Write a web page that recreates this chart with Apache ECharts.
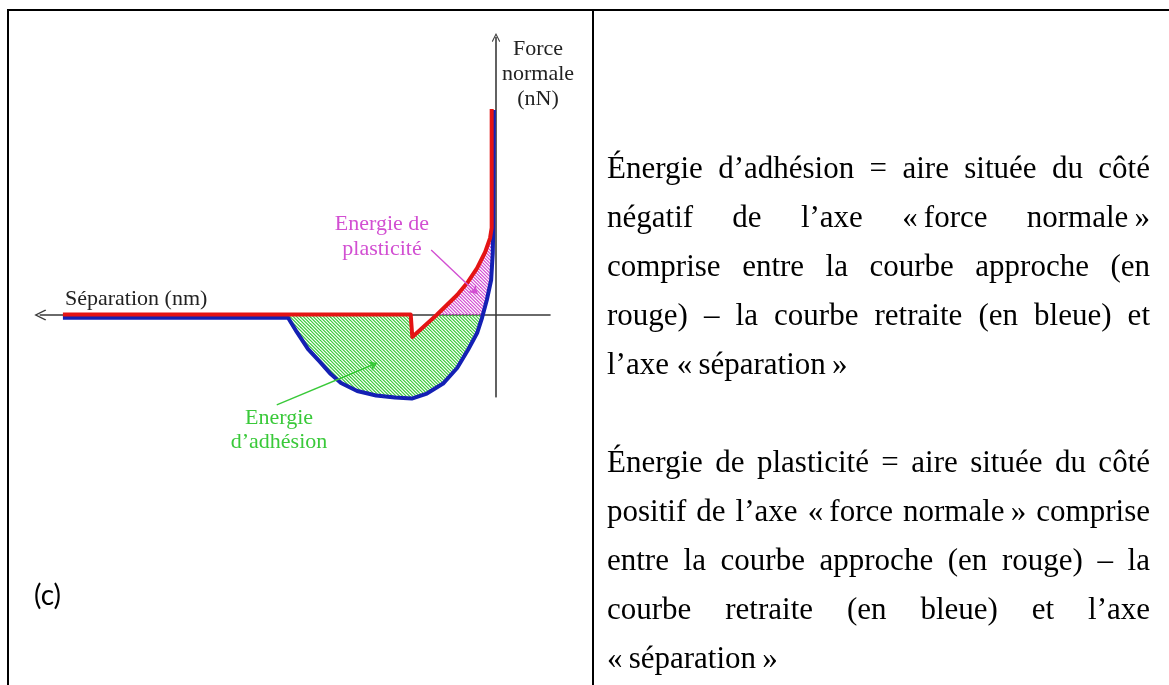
<!DOCTYPE html>
<html>
<head>
<meta charset="utf-8">
<script src="https://cdn.jsdelivr.net/npm/echarts@6/dist/echarts.min.js"></script>
<style>
  html, body { margin: 0; padding: 0; background: #fff; }
  #page { position: relative; width: 1169px; height: 685px; overflow: hidden; }
  #chart { position: absolute; left: 0; top: 0; width: 1169px; height: 685px; }
  .rule { position: absolute; background: #000; }
  #notes {
    position: absolute; left: 607px; top: 143px; width: 543px;
    font-family: 'Liberation Serif', 'Times New Roman', serif;
    font-size: 31px; line-height: 49px; color: #000;
  }
  .ln { text-align: justify; text-align-last: justify; }
  .ln.last { text-align: left; text-align-last: left; }
  .gap { height: 49px; }
  .gl { margin-right: 0.2em; }
  .gr { margin-left: 0.2em; }
</style>
</head>
<body>
<div id="page">
  <div id="chart"></div>
  <div class="rule" style="left:7px;top:9px;width:1162px;height:2px;"></div>
  <div class="rule" style="left:7px;top:9px;width:2px;height:676px;"></div>
  <div class="rule" style="left:592px;top:9px;width:2px;height:676px;"></div>
  <div id="notes">
    <div class="ln">Énergie d’adhésion = aire située du côté</div>
    <div class="ln">négatif de l’axe <span class="gl">«</span>force normale<span class="gr">»</span></div>
    <div class="ln">comprise entre la courbe approche (en</div>
    <div class="ln">rouge) – la courbe retraite (en bleue) et</div>
    <div class="ln last">l’axe <span class="gl">«</span>séparation<span class="gr">»</span></div>
    <div class="gap"></div>
    <div class="ln">Énergie de plasticité = aire située du côté</div>
    <div class="ln">positif de l’axe <span class="gl">«</span>force normale<span class="gr">»</span> comprise</div>
    <div class="ln">entre la courbe approche (en rouge) – la</div>
    <div class="ln">courbe retraite (en bleue) et l’axe</div>
    <div class="ln last"><span class="gl">«</span>séparation<span class="gr">»</span></div>
  </div>
</div>
<script>
// Approach curve (red): separation (nm) and normal force (nN)
const approachSep   = [80.2, 15.8, 15.5, 11.0, 7.2, 5.2, 3.5, 2.0, 1.1, 0.8, 0.8];
const approachForce = [0.2, 0.2, -7.9, 0.0, 7.2, 11.9, 16.9, 22.7, 27.7, 31.4, 74.2];

// Retract curve (blue)
const retractSep   = [80.2, 38.5, 36.9, 34.8, 32.6, 30.6, 28.7, 25.7, 22.2, 18.7, 15.6, 12.8, 9.8, 7.2, 5.2, 3.5, 2.6, 1.7, 0.9, 0.6, 0.5, 0.4];
const retractForce = [-1.0, -1.0, -6.1, -12.3, -16.9, -21.3, -24.5, -27.4, -29.0, -29.7, -30.1, -28.3, -24.7, -19.1, -12.6, -6.5, -1.1, 5.4, 12.6, 22.3, 31.7, 73.9];

// Pointer arrows from the labels into the hatched areas
const plasticityArrow = [[12.0, 23.4], [3.4, 7.6]];
const adhesionArrow   = [[40.6, -32.4], [22.0, -17.3]];

// Axis ranges
const sepRange   = [-10, 84.4];
const forceRange = [-29.5, 100];

const RED = '#e41414', BLUE = '#1420b4', GREEN = '#39c939', MAGENTA = '#d24fd2';
const SERIF = '"Liberation Serif", "Times New Roman", serif';

function pairs(xs, ys) { return xs.map((x, i) => [x, ys[i]]); }

// first crossing of the separation axis (force = 0) going upward
function zeroCrossing(xs, ys, from) {
  for (let i = from; i < xs.length - 1; i++) {
    if (ys[i] < 0 && ys[i + 1] >= 0) {
      const t = -ys[i] / (ys[i + 1] - ys[i]);
      return { i: i, x: xs[i] + t * (xs[i + 1] - xs[i]) };
    }
  }
  return null;
}

const aZ = zeroCrossing(approachSep, approachForce, 2);
const rZ = zeroCrossing(retractSep, retractForce, 2);

// adhesion energy: below the axis, between approach and retract
const adhesionArea = [[retractSep[1], 0], [approachSep[1], 0]];
for (let k = 2; k <= aZ.i; k++) adhesionArea.push([approachSep[k], approachForce[k]]);
adhesionArea.push([aZ.x, 0], [rZ.x, 0]);
for (let k = rZ.i; k >= 2; k--) adhesionArea.push([retractSep[k], retractForce[k]]);

// plasticity energy: above the axis, between approach and retract
const plasticityArea = [[aZ.x, 0]];
for (let k = aZ.i + 1; k <= approachSep.length - 2; k++) plasticityArea.push([approachSep[k], approachForce[k]]);
for (let k = retractSep.length - 2; k > rZ.i; k--) plasticityArea.push([retractSep[k], retractForce[k]]);
plasticityArea.push([rZ.x, 0]);

function hatch(color) {
  const s = 10, c = document.createElement('canvas');
  c.width = c.height = s;
  const g = c.getContext('2d');
  g.strokeStyle = color; g.lineWidth = 1.2;
  for (let k = -3; k <= 3; k++) {
    const x0 = k * s / 3;
    g.beginPath(); g.moveTo(x0 - 2, -2); g.lineTo(x0 + s + 2, s + 2); g.stroke();
  }
  return c;
}

function areaSeries(name, poly, color) {
  return {
    type: 'custom', name: name, coordinateSystem: 'cartesian2d', data: [[0, 0]], z: 1, silent: true,
    renderItem: function (params, api) {
      return {
        type: 'polygon',
        shape: { points: poly.map(p => api.coord(p)) },
        style: { fill: { image: hatch(color), repeat: 'repeat' }, stroke: null }
      };
    }
  };
}

// open chevron head for the axes
const chevron = 'path://M0,10 L5,0 L10,10 L9,10.9 L5,2.6 L1,10.9 Z';

const pxPerSep = 5.4, pxPerForce = 2.775, originX = 496, originY = 315;

const chart = echarts.init(document.getElementById('chart'), null, { renderer: 'canvas' });
chart.setOption({
  animation: false,
  backgroundColor: 'transparent',
  grid: {
    left: originX - sepRange[1] * pxPerSep,
    width: (sepRange[1] - sepRange[0]) * pxPerSep,
    top: originY - forceRange[1] * pxPerForce,
    height: (forceRange[1] - forceRange[0]) * pxPerForce,
    containLabel: false,
    outerBoundsMode: 'none'
  },
  xAxis: {
    type: 'value', min: sepRange[0], max: sepRange[1], inverse: true,
    axisLine: { show: true, onZero: true, symbol: [chevron, 'none'], symbolSize: [16, 12],
      lineStyle: { color: '#3a3a3a', width: 1.6 } },
    axisTick: { show: false }, axisLabel: { show: false }, splitLine: { show: false }
  },
  yAxis: {
    type: 'value', min: forceRange[0], max: forceRange[1],
    axisLine: { show: true, onZero: true, symbol: ['none', chevron], symbolSize: [10, 9],
      lineStyle: { color: '#3a3a3a', width: 1.6 } },
    axisTick: { show: false }, axisLabel: { show: false }, splitLine: { show: false }
  },
  series: [
    areaSeries('Energie d’adhésion', adhesionArea, GREEN),
    areaSeries('Energie de plasticité', plasticityArea, MAGENTA),
    {
      type: 'line', name: 'retrait', data: pairs(retractSep, retractForce), showSymbol: false, symbol: 'none',
      clip: false, z: 3, lineStyle: { color: BLUE, width: 4, join: 'round' }
    },
    {
      type: 'line', name: 'approche', data: pairs(approachSep, approachForce), showSymbol: false, symbol: 'none',
      clip: false, z: 4, lineStyle: { color: RED, width: 4, join: 'round' }
    },
    {
      type: 'lines', coordinateSystem: 'cartesian2d', clip: false, z: 5, silent: true,
      symbol: ['none', 'arrow'], symbolSize: 8,
      lineStyle: { color: MAGENTA, width: 1.4, opacity: 1, curveness: 0 },
      data: [{ coords: plasticityArrow }]
    },
    {
      type: 'lines', coordinateSystem: 'cartesian2d', clip: false, z: 5, silent: true,
      symbol: ['none', 'arrow'], symbolSize: 8,
      lineStyle: { color: GREEN, width: 1.4, opacity: 1, curveness: 0 },
      data: [{ coords: adhesionArrow }]
    }
  ],
  graphic: [
    { type: 'text', x: 65, y: 299, style: { text: 'Séparation (nm)', font: '22px ' + SERIF, fill: '#222', textAlign: 'left', textVerticalAlign: 'middle' } },
    { type: 'text', x: 538, y: 74, style: { text: 'Force\nnormale\n(nN)', font: '22px ' + SERIF, lineHeight: 25, fill: '#222', textAlign: 'center', textVerticalAlign: 'middle' } },
    { type: 'text', x: 382, y: 237, style: { text: 'Energie de\nplasticité', font: '22px ' + SERIF, lineHeight: 25, fill: MAGENTA, textAlign: 'center', textVerticalAlign: 'middle' } },
    { type: 'text', x: 279, y: 430, style: { text: 'Energie\nd’adhésion', font: '22px ' + SERIF, lineHeight: 24, fill: GREEN, textAlign: 'center', textVerticalAlign: 'middle' } },
    { type: 'text', x: 34, y: 596, style: { text: '(c)', font: '28px Lato, "Noto Sans", sans-serif', fill: '#000', textAlign: 'left', textVerticalAlign: 'middle' } }
  ]
});
</script>
</body>
</html>
